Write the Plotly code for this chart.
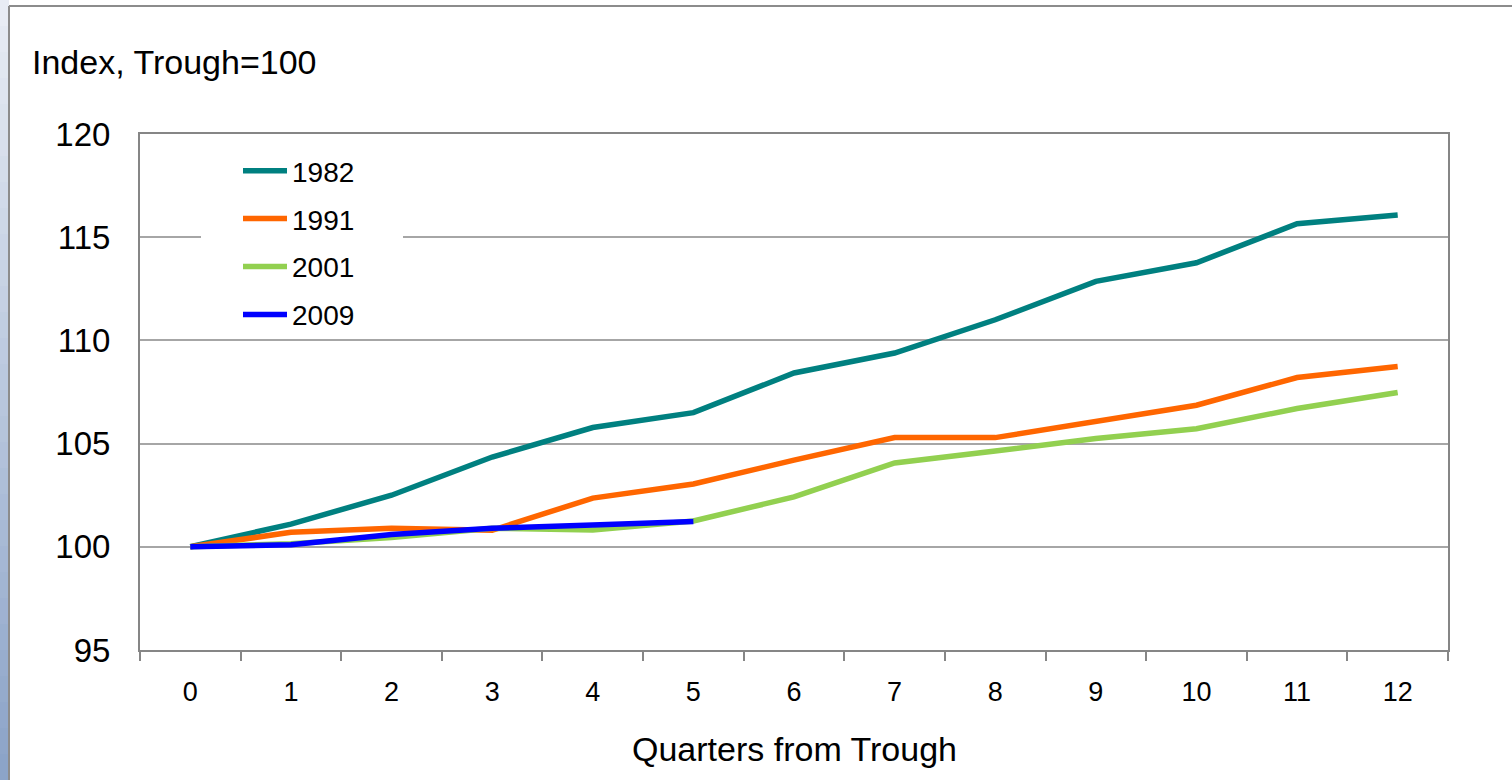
import plotly.graph_objects as go

quarters = [str(q) for q in range(13)]
s1982 = [100.0, 101.1, 102.5, 104.35, 105.78, 106.5, 108.42, 109.39, 111.0, 112.86, 113.76, 115.65, 116.08]
s1991 = [100.0, 100.7, 100.9, 100.8, 102.36, 103.04, 104.2, 105.29, 105.29, 106.1, 106.86, 108.2, 108.74]
s2001 = [100.0, 100.15, 100.45, 100.9, 100.81, 101.25, 102.42, 104.06, 104.64, 105.25, 105.72, 106.7, 107.48]
s2009 = [100.0, 100.1, 100.6, 100.9, 101.06, 101.22]

series = [
    ("1982", s1982, "#008080"),
    ("1991", s1991, "#FF6600"),
    ("2001", s2001, "#92D050"),
    ("2009", s2009, "#0000FF"),
]

FONT = "Liberation Sans, Arial, sans-serif"
W, H = 1512, 780
L, R, T, B = 140, 64, 134, 130
PW, PH = W - L - R, H - T - B

def px_x(p):
    return (p - L) / PW

def px_y(p):
    return (H - B - p) / PH

fig = go.Figure()
for name, vals, col in series:
    fig.add_trace(go.Scatter(
        x=quarters[:len(vals)], y=vals, mode="lines", name=name,
        legendgroup=name,
        line=dict(color=col, width=5.5),
    ))

shapes = []
# left gradient strip (slide background)
n = 30
top_c = (232, 236, 244)
bot_c = (140, 164, 200)
for i in range(n):
    f = i / (n - 1)
    c = tuple(int(top_c[k] + (bot_c[k] - top_c[k]) * f) for k in range(3))
    y0 = i * H / n
    y1 = (i + 1) * H / n + 1
    shapes.append(dict(type="rect", xref="paper", yref="paper",
                       x0=px_x(0), x1=px_x(9), y0=px_y(y1), y1=px_y(y0),
                       fillcolor="rgb(%d,%d,%d)" % c, line=dict(width=0), layer="below"))
# outer frame
shapes.append(dict(type="line", xref="paper", yref="paper",
                   x0=px_x(9), x1=px_x(9), y0=px_y(6), y1=px_y(H + 5),
                   line=dict(color="#8c8c8c", width=2)))
shapes.append(dict(type="line", xref="paper", yref="paper",
                   x0=px_x(9), x1=px_x(W + 5), y0=px_y(6), y1=px_y(6),
                   line=dict(color="#8c8c8c", width=2)))
# white legend backdrop hiding the gridline
shapes.append(dict(type="rect", xref="paper", yref="paper",
                   x0=px_x(201), x1=px_x(403), y0=px_y(336), y1=px_y(136),
                   fillcolor="white", line=dict(width=0), layer="above"))

fig.update_layout(
    width=W, height=H,
    margin=dict(l=L, r=R, t=T, b=B),
    paper_bgcolor="white", plot_bgcolor="white",
    font=dict(family=FONT, color="black"),
    showlegend=True,
    legend=dict(
        x=px_x(238), y=px_y(146), xanchor="left", yanchor="top",
        bgcolor="rgba(0,0,0,0)", borderwidth=0,
        font=dict(size=28, family=FONT),
        traceorder="grouped", tracegroupgap=8.5,
        itemwidth=44,
    ),
    shapes=shapes,
    annotations=[
        dict(text="Index, Trough=100", xref="paper", yref="paper",
             x=px_x(30), y=px_y(62), xanchor="left", yanchor="middle",
             showarrow=False, font=dict(size=34, family=FONT)),
        dict(text="Quarters from Trough", xref="paper", yref="paper",
             x=0.5, y=px_y(749), xanchor="center", yanchor="middle",
             showarrow=False, font=dict(size=34, family=FONT)),
    ],
)

fig.update_xaxes(
    type="category", categoryorder="array", categoryarray=quarters,
    range=[-0.5, 12.5],
    tickson="boundaries", ticks="outside", ticklen=9, tickwidth=2, tickcolor="#868686",
    showline=True, linecolor="#868686", linewidth=2, mirror=True,
    showgrid=False, zeroline=False,
    tickfont=dict(size=27, family=FONT), ticklabelstandoff=17,
)
fig.update_yaxes(
    range=[95, 120], dtick=5, tick0=95,
    ticks="", showline=True, linecolor="#868686", linewidth=2, mirror=True,
    showgrid=True, gridcolor="#a6a6a6", gridwidth=2, zeroline=False,
    tickfont=dict(size=33, family=FONT), ticklabelstandoff=21,
)

fig.write_html("out.html",
               config={"displayModeBar": False},
               post_script="document.body.style.margin='0';document.body.style.overflow='hidden';")
